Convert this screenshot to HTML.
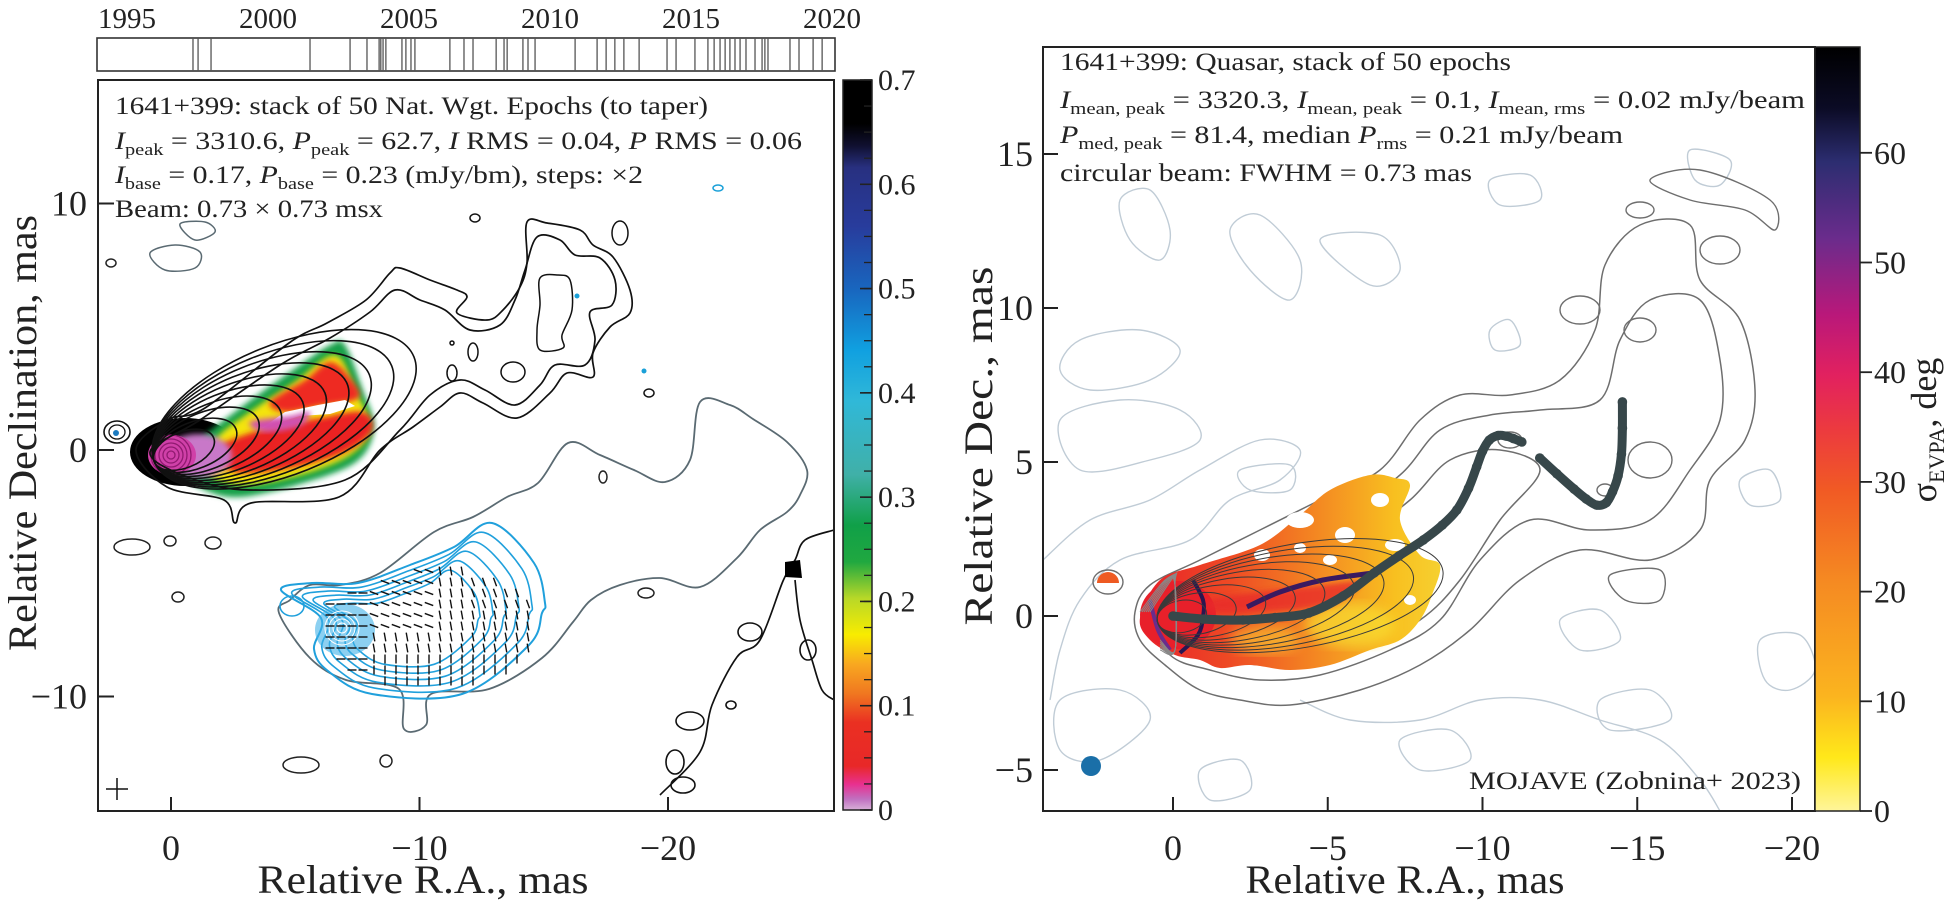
<!DOCTYPE html>
<html><head><meta charset="utf-8"><style>
html,body{margin:0;padding:0;background:#fff;}
svg{display:block;font-family:"Liberation Serif",serif;}
</style></head><body>
<svg id="fig" width="1944" height="919" viewBox="0 0 1944 919" xmlns="http://www.w3.org/2000/svg">
<defs>
<linearGradient id="cbL" x1="0" y1="1" x2="0" y2="0">
<stop offset="0" stop-color="#d8b0d8"/><stop offset="0.015" stop-color="#c070c0"/><stop offset="0.035" stop-color="#e83090"/><stop offset="0.06" stop-color="#e82828"/><stop offset="0.12" stop-color="#ea3022"/><stop offset="0.16" stop-color="#f07820"/><stop offset="0.2" stop-color="#f8a820"/><stop offset="0.24" stop-color="#f8ec00"/><stop offset="0.29" stop-color="#b8d828"/><stop offset="0.34" stop-color="#20a840"/><stop offset="0.39" stop-color="#10a048"/><stop offset="0.46" stop-color="#40b0a8"/><stop offset="0.56" stop-color="#30b8d8"/><stop offset="0.63" stop-color="#10a0e0"/><stop offset="0.71" stop-color="#1868c0"/><stop offset="0.8" stop-color="#283c9c"/><stop offset="0.88" stop-color="#283080"/><stop offset="0.91" stop-color="#101030"/><stop offset="0.94" stop-color="#000"/><stop offset="1" stop-color="#000"/>
</linearGradient>
<linearGradient id="cbR" x1="0" y1="1" x2="0" y2="0">
<stop offset="0" stop-color="#fff59a"/><stop offset="0.07" stop-color="#ffe81a"/><stop offset="0.15" stop-color="#fbb41f"/><stop offset="0.3" stop-color="#f58a22"/><stop offset="0.42" stop-color="#f15a24"/><stop offset="0.5" stop-color="#ec3a3f"/><stop offset="0.57" stop-color="#e2215f"/><stop offset="0.65" stop-color="#b9187a"/><stop offset="0.75" stop-color="#6a2c8c"/><stop offset="0.85" stop-color="#2c2d70"/><stop offset="0.92" stop-color="#0b0b25"/><stop offset="1" stop-color="#000"/>
</linearGradient>
<linearGradient id="jetR" x1="0" y1="0" x2="1" y2="0">
<stop offset="0" stop-color="#e8202a"/><stop offset="0.3" stop-color="#ee4a24"/><stop offset="0.6" stop-color="#f48a22"/><stop offset="0.85" stop-color="#f8c020"/><stop offset="1" stop-color="#f6d030"/>
</linearGradient>
<clipPath id="clipL"><rect x="98" y="80" width="736" height="731"/></clipPath>
<clipPath id="clipR"><rect x="1043" y="47" width="772" height="764"/></clipPath>
<filter id="blur3"><feGaussianBlur stdDeviation="3"/></filter>
<filter id="blur6"><feGaussianBlur stdDeviation="6"/></filter>
</defs>
<g id="leftMap" clip-path="url(#clipL)"></g>
<g id="rightMap" clip-path="url(#clipR)"></g>
<g id="axes"></g>
</svg>
<script>
// ---- data ----
const epochYears=[1997.34,1997.52,1997.98,2001.49,2002.91,2003.51,2003.94,2004.0,2004.08,2004.18,2004.75,2004.89,2005.07,2005.21,2006.45,2006.95,2007.27,2008.09,2008.37,2008.48,2009.04,2009.22,2009.47,2010.89,2011.67,2011.99,2012.30,2012.62,2013.16,2014.15,2014.47,2015.14,2015.60,2015.82,2016.03,2016.21,2016.38,2016.56,2016.74,2016.95,2017.27,2017.52,2017.62,2017.73,2018.51,2018.83,2019.33,2019.65];
const yearTicks=[1995,2000,2005,2010,2015,2020];
const leftXTicks=[0,-10,-20];
const leftYTicks=[10,0,-10];
const rightXTicks=[0,-5,-10,-15,-20];
const rightYTicks=[-5,0,5,10,15];
const leftCbTicks=[0,0.1,0.2,0.3,0.4,0.5,0.6,0.7];
const rightCbTicks=[0,10,20,30,40,50,60];
const ridgeRA1=[0,-1.0,-2.26,-3.3,-4.39,-5.5,-6.5,-7.3,-8.09,-8.7,-9.17,-9.55,-9.81,-10.0,-10.22,-10.5,-10.76,-11.0,-11.27];
const ridgeDec1=[0,-0.1,-0.13,-0.05,0.10,0.65,1.40,1.95,2.47,2.95,3.44,4.15,4.84,5.35,5.71,5.86,5.84,5.76,5.65];
const ridgeRA2=[-11.85,-12.4,-12.96,-13.35,-13.69,-14.0,-14.2,-14.38,-14.49,-14.52,-14.52];
const ridgeDec2=[5.13,4.62,4.12,3.80,3.60,3.68,4.03,4.55,5.26,6.1,6.95];

// ---- scales ----
const yearX=y=>127+(y-1995)*28.2;
const LX=ra=>171-24.85*ra, LY=d=>450-24.65*d;
const RX=ra=>1173-30.95*ra, RY=d=>616-30.8*d;
const cbLY=v=>810-v/0.7*730;
const cbRY=v=>811-v*10.97;

const NS='http://www.w3.org/2000/svg';
function mk(tag,attrs,parent,name,inter){const e=document.createElementNS(NS,tag);for(const k in attrs)e.setAttribute(k,attrs[k]);
 
 
 parent.appendChild(e);return e;}
function smooth(p,closed){const n=p.length;let d='M'+p[0][0]+','+p[0][1];
 const g=i=>closed?p[(i+n)%n]:p[Math.max(0,Math.min(n-1,i))];
 const m=closed?n:n-1;
 for(let i=0;i<m;i++){const p0=g(i-1),p1=g(i),p2=g(i+1),p3=g(i+2);
  const c1=[p1[0]+(p2[0]-p0[0])/6,p1[1]+(p2[1]-p0[1])/6],c2=[p2[0]-(p3[0]-p1[0])/6,p2[1]-(p3[1]-p1[1])/6];
  d+=`C${c1[0].toFixed(1)},${c1[1].toFixed(1)} ${c2[0].toFixed(1)},${c2[1].toFixed(1)} ${p2[0]},${p2[1]}`;}
 return d+(closed?'Z':'');}
const LM=document.getElementById('leftMap'), RM=document.getElementById('rightMap'), AX=document.getElementById('axes');

// ================= LEFT MAP =================
function cont(g,pts,stroke,w,name,fill){mk('path',{d:smooth(pts,true),fill:fill||'none',stroke:stroke,'stroke-width':w},g,name,false);}
cont(LM,[[150,253],[175,245],[200,252],[195,268],[165,270]],'#5a6a72',1.5,'grey-contour');
cont(LM,[[180,224],[205,222],[215,232],[195,240]],'#5a6a72',1.5,'grey-contour');
cont(LM,[[290,600],[310,585],[340,585],[380,573],[434,532],[473,517],[507,497],[538,483],[568,443],[600,455],[634,470],[665,482],[690,460],[700,402],[730,405],[753,419],[787,442],[807,470],[800,495],[787,512],[760,530],[737,558],[700,587],[660,578],[620,585],[591,600],[573,622],[542,658],[489,689],[431,694],[426,725],[404,729],[399,689],[346,680],[310,658],[279,613]],'#5a6a72',1.8,'grey-outer-contour');
mk('ellipse',{cx:185,cy:452,rx:55,ry:34,fill:'#000'},LM,'core-blob',false);
const green=[[200,440],[240,408],[290,372],[330,345],[345,345],[362,388],[374,428],[356,462],[300,484],[240,497],[205,490],[180,470]];
mk('path',{d:smooth(green,true),fill:'#18a048',filter:'url(#blur3)'},LM,'jet-green',false);
mk('path',{d:smooth([[215,440],[250,412],[295,382],[335,355],[355,390],[370,428],[350,455],[300,475],[240,485],[205,470]],true),fill:'#f4e410',filter:'url(#blur3)'},LM,'jet-yellow',false);
mk('path',{d:smooth([[270,402],[305,380],[330,362],[350,378],[358,398],[320,406],[285,412]],true),fill:'#ee2a22',filter:'url(#blur3)'},LM,'jet-red-upper',false);
mk('path',{d:smooth([[215,450],[260,430],[320,418],[362,412],[372,430],[345,452],[290,468],[235,472]],true),fill:'#ea2424',filter:'url(#blur3)'},LM,'jet-red-lower',false);
mk('path',{d:'M262,428 L300,416 L330,414 L355,406 L345,400 L318,405 L285,412 Z',fill:'#fff'},LM,'jet-gap',false);
mk('path',{d:smooth([[250,422],[290,416],[310,412],[300,426],[265,432]],true),fill:'#d050b0',filter:'url(#blur3)'},LM,'jet-pink',false);
mk('ellipse',{cx:198,cy:456,rx:34,ry:22,fill:'#c878c8',filter:'url(#blur3)'},LM,'core-purple',false);
mk('ellipse',{cx:172,cy:455,rx:24,ry:20,fill:'#d040a8'},LM,'core-magenta',false);
[4,8,12,16,20].forEach(r=>mk('circle',{cx:171,cy:455,r:r,fill:'none',stroke:'#901a70','stroke-width':1.3},LM,'core-ring',false));
for(let i=0;i<10;i++){const d=40+i*24,w=8+i*5.2,a=-22*Math.PI/180;
 const cx=171+Math.cos(a)*(d/2-6),cy=455+Math.sin(a)*(d/2-6);
 mk('ellipse',{cx:cx,cy:cy,rx:d/2+12,ry:w+10,transform:`rotate(-22 ${cx} ${cy})`,fill:'none',stroke:'#111','stroke-width':1.6},LM,'jet-contour',false);}
cont(LM,[[136,450],[167,420],[205,408],[289,343],[327,323],[366,300],[390,273],[400,268],[430,280],[457,290],[467,297],[457,313],[487,320],[503,310],[520,287],[527,263],[527,222],[547,223],[580,230],[593,245],[613,257],[630,290],[630,313],[610,327],[593,353],[593,377],[567,373],[550,393],[517,418],[483,403],[460,393],[440,407],[413,427],[380,450],[339,497],[251,503],[235,523],[224,500],[167,487]],'#111',1.7,'jet-outer-contour');
cont(LM,[[150,452],[200,420],[280,365],[330,338],[370,312],[395,290],[420,300],[445,310],[470,330],[500,325],[515,300],[525,270],[537,237],[560,240],[575,255],[600,258],[615,280],[612,305],[590,312],[595,340],[585,365],[555,365],[540,385],[515,405],[485,390],[460,380],[430,395],[400,430],[345,480],[250,490],[190,478]],'#111',1.7,'jet-contour-2');
cont(LM,[[540,278],[558,275],[570,280],[572,310],[562,335],[563,348],[540,350],[537,330],[540,305]],'#111',1.5,'jet-inner-loop');
[[513,372,12,10],[473,352,5,9],[452,373,5,8],[620,233,8,12],[475,218,5,4],[649,393,5,4],[452,343,2,2]].forEach(e=>mk('ellipse',{cx:e[0],cy:e[1],rx:e[2],ry:e[3],fill:'none',stroke:'#111','stroke-width':1.5},LM,'small-contour',false));
mk('ellipse',{cx:117,cy:432,rx:13,ry:11,fill:'none',stroke:'#111','stroke-width':1.6},LM,'companion-contour',false);
mk('ellipse',{cx:117,cy:432,rx:8,ry:7,fill:'none',stroke:'#111','stroke-width':1.3},LM,'companion-contour',false);
mk('circle',{cx:116,cy:433,r:3,fill:'#1a7ac0'},LM,'companion-dot',false);
[[132,547,18,8],[170,541,6,5],[213,543,8,6],[178,597,6,5],[301,765,18,8],[386,761,6,6],[111,263,5,4],[603,477,4,6],[646,593,8,5]].forEach(e=>mk('ellipse',{cx:e[0],cy:e[1],rx:e[2],ry:e[3],fill:'none',stroke:'#222','stroke-width':1.5},LM,'small-contour',false));
mk('path',{d:smooth([[660,795],[700,752],[712,705],[737,657],[760,640],[783,581],[795,560],[805,540],[834,530]],false),fill:'none',stroke:'#111','stroke-width':1.7},LM,'sw-contour',false);
mk('path',{d:smooth([[795,580],[800,620],[812,660],[822,690],[834,700]],false),fill:'none',stroke:'#111','stroke-width':1.7},LM,'sw-contour',false);
[[750,632,12,9],[690,721,14,9],[675,762,9,12],[731,705,5,4],[683,785,12,8],[808,650,8,10]].forEach(e=>mk('ellipse',{cx:e[0],cy:e[1],rx:e[2],ry:e[3],fill:'none',stroke:'#111','stroke-width':1.6},LM,'sw-contour-loop',false));
mk('path',{d:'M785,562 L800,560 L802,578 L785,577 Z',fill:'#000'},LM,'sw-black-blob',false);
const blueOuter=[[281,590],[312,583],[358,583],[410,565],[454,547],[492,523],[534,563],[545,603],[542,613],[529,645],[462,694],[372,694],[328,671],[314,649],[321,618]];
mk('path',{d:smooth(blueOuter,true),fill:'none',stroke:'#20a0dc','stroke-width':2},LM,'blue-contour',false);
for(let k=1;k<6;k++){const s=1-k*0.09,cx=400,cy=628;
 mk('path',{d:smooth(blueOuter.map(p=>[cx+(p[0]-cx)*s,cy+(p[1]-cy)*s]),true),fill:'none',stroke:'#20a0dc','stroke-width':1.6},LM,'blue-contour',false);}
mk('ellipse',{cx:345,cy:630,rx:30,ry:26,fill:'#40b0e8',opacity:0.6},LM,'blue-core',false);
[5,9,13,17].forEach(r=>mk('circle',{cx:342,cy:628,r:r,fill:'none',stroke:'#fff','stroke-width':1},LM,'blue-core-ring',false));
mk('ellipse',{cx:292,cy:606,rx:12,ry:10,fill:'none',stroke:'#20a0dc','stroke-width':1.6},LM,'blue-contour',false);
for(let x=330;x<535;x+=11){for(let y=560;y<690;y+=11){
 const inside=(x-430)*(x-430)/(110*110)+(y-628)*(y-628)/(60*60)<1 && y>600-(x-330)*0.35;
 if(!inside)continue;
 const ang=x<370?0:(y>655?90:(x>470&&y<610?70:(y<630&&x<430?20:80)));
 const r=ang*Math.PI/180,dx=4.5*Math.cos(r),dy=4.5*Math.sin(r);
 mk('line',{x1:x-dx,y1:y-dy,x2:x+dx,y2:y+dy,stroke:'#111','stroke-width':1.4},LM,'evpa-tick',false);}}
[[577,296],[644,371]].forEach(p=>mk('circle',{cx:p[0],cy:p[1],r:2.5,fill:'#1aa0d8'},LM,'blue-dot',false));
mk('ellipse',{cx:718,cy:188,rx:5,ry:3,fill:'none',stroke:'#1aa0d8','stroke-width':1.5},LM,'blue-contour',false);
mk('path',{d:'M106,789 h22 M117,778 v22',stroke:'#111','stroke-width':1.5},LM,'beam-cross',false);

// ================= RIGHT MAP =================
const faint=[[[1120,200],[1150,190],[1170,230],[1160,260],[1130,240]],[[1230,230],[1260,215],[1300,260],[1290,300],[1250,270]],[[1320,240],[1380,235],[1400,270],[1370,285]],[[1080,340],[1140,330],[1180,350],[1150,380],[1090,390],[1060,370]],[[1240,470],[1290,465],[1290,490],[1250,490]],[[1060,420],[1120,400],[1180,410],[1200,440],[1150,460],[1080,470]],[[1060,700],[1120,690],[1150,720],[1100,760],[1060,750]],[[1690,150],[1730,160],[1720,185],[1695,180]],[[1490,180],[1530,175],[1540,200],[1500,205]],[[1490,330],[1510,320],[1520,345],[1495,350]],[[1760,640],[1800,635],[1815,670],[1790,690],[1765,680]],[[1400,740],[1450,730],[1470,760],[1420,770]],[[1600,700],[1650,690],[1670,720],[1610,730]],[[1740,480],[1770,470],[1780,500],[1750,505]],[[1200,770],[1240,760],[1250,790],[1210,800]],[[1560,620],[1600,610],[1620,640],[1580,650]]];
faint.forEach(p=>mk('path',{d:smooth(p,true),fill:'none',stroke:'#c0ccd6','stroke-width':1.4},RM,'faint-contour',false));
mk('path',{d:smooth([[1043,560],[1090,520],[1150,500],[1200,470],[1260,440],[1300,450],[1280,480],[1230,500],[1190,540],[1120,560],[1080,600],[1060,650],[1050,700]],false),fill:'none',stroke:'#c0ccd6','stroke-width':1.4},RM,'faint-contour',false);
mk('path',{d:smooth([[1300,700],[1350,720],[1420,720],[1480,700],[1540,700],[1600,720],[1660,740],[1700,780],[1720,811]],false),fill:'none',stroke:'#c0ccd6','stroke-width':1.4},RM,'faint-contour',false);
const L1=[[1135,612],[1150,585],[1200,560],[1260,530],[1320,500],[1380,470],[1420,420],[1460,395],[1510,395],[1560,380],[1595,330],[1605,265],[1640,225],[1690,225],[1700,280],[1740,320],[1755,390],[1745,440],[1710,480],[1700,530],[1650,560],[1580,550],[1520,580],[1470,630],[1420,665],[1360,690],[1290,705],[1240,700],[1200,690],[1165,665],[1140,640]];
const L2=[[1145,612],[1165,585],[1220,565],[1280,540],[1340,515],[1400,475],[1440,430],[1490,415],[1540,410],[1600,400],[1620,340],[1650,300],[1700,300],[1720,360],[1720,420],[1690,470],[1650,520],[1590,530],[1530,520],[1480,560],[1440,620],[1390,650],[1320,675],[1260,680],[1210,670],[1170,655]];
const L3=[[1155,612],[1175,590],[1230,575],[1300,555],[1360,535],[1410,500],[1450,460],[1500,450],[1540,470],[1500,520],[1460,580],[1420,620],[1360,650],[1290,665],[1220,660],[1175,645]];
[L1,L2,L3].forEach(p=>mk('path',{d:smooth(p,true),fill:'none',stroke:'#6e6e6e','stroke-width':1.5},RM,'grey-contour',false));
[[1580,310,20,14],[1640,330,16,12],[1720,250,20,14],[1650,460,22,18],[1605,490,8,6],[1510,440,12,8],[1640,210,14,8]].forEach(e=>mk('ellipse',{cx:e[0],cy:e[1],rx:e[2],ry:e[3],fill:'none',stroke:'#6e6e6e','stroke-width':1.4},RM,'grey-contour',false));
mk('path',{d:smooth([[1650,180],[1700,170],[1770,200],[1775,230],[1745,210],[1690,200]],true),fill:'none',stroke:'#6e6e6e','stroke-width':1.4},RM,'grey-contour',false);
mk('path',{d:smooth([[1610,575],[1660,570],[1660,600],[1625,600]],true),fill:'none',stroke:'#6e6e6e','stroke-width':1.4},RM,'grey-contour',false);
const jet=[[1140,618],[1160,580],[1200,565],[1260,545],[1300,515],[1330,490],[1370,475],[1395,478],[1410,485],[1400,520],[1420,555],[1440,565],[1432,595],[1420,620],[1400,640],[1370,650],[1330,665],[1290,670],[1250,665],[1220,668],[1200,660],[1175,655],[1150,640]];
mk('path',{d:smooth(jet,true),fill:'url(#jetR)'},RM,'evpa-region',false);
[[1300,520,14,8],[1345,535,10,8],[1262,555,8,6],[1380,500,9,7],[1330,560,7,5],[1395,545,10,6],[1300,548,6,5],[1410,600,6,5]].forEach(e=>mk('ellipse',{cx:e[0],cy:e[1],rx:e[2],ry:e[3],fill:'#fff'},RM,'evpa-hole',false));
mk('ellipse',{cx:1350,cy:625,rx:45,ry:22,fill:'#f8e030',opacity:0.7,filter:'url(#blur6)'},RM,'yellow-patch',false);
mk('ellipse',{cx:1265,cy:640,rx:35,ry:14,fill:'#f8d030',opacity:0.6,filter:'url(#blur6)'},RM,'yellow-patch',false);
mk('ellipse',{cx:1178,cy:615,rx:38,ry:34,fill:'#e8202a'},RM,'core-red',false);
mk('path',{d:smooth([[1210,600],[1260,592],[1320,585],[1360,582],[1330,605],[1260,612],[1215,612]],true),fill:'#e82a2a',opacity:0.8,filter:'url(#blur3)'},RM,'red-band',false);
mk('path',{d:smooth([[1193,580],[1203,600],[1203,617],[1198,635],[1180,653]],false),fill:'none',stroke:'#2a1650','stroke-width':4},RM,'purple-streak',false);
mk('path',{d:smooth([[1247,607],[1280,592],[1323,580],[1373,573]],false),fill:'none',stroke:'#3a1a60','stroke-width':5},RM,'purple-streak',false);
mk('path',{d:smooth([[1150,600],[1158,630],[1170,650]],false),fill:'none',stroke:'#6a2c8c','stroke-width':4},RM,'purple-edge',false);
mk('path',{d:'M1097,583 a11,11 0 0 1 22,0 Z',fill:'#ee5a22'},RM,'companion-patch',false);
mk('ellipse',{cx:1108,cy:582,rx:15,ry:12,fill:'none',stroke:'#6e6e6e','stroke-width':1.4},RM,'companion-contour',false);
for(let i=0;i<9;i++){const d=30+i*30,w=8+i*4.5,a=-10*Math.PI/180;
 const cx=1173+Math.cos(a)*(d/2-6),cy=618+Math.sin(a)*(d/2-6);
 mk('ellipse',{cx:cx,cy:cy,rx:d/2+10,ry:w+8,transform:`rotate(-10 ${cx} ${cy})`,fill:'none',stroke:'#3a3a3a','stroke-width':1},RM,'inner-contour',false);}
for(let k=0;k<6;k++){mk('path',{d:smooth([[1140+k*2,612],[1165+k*2,580-k],[1175,585],[1175,650],[1160,650-k*2]],false),fill:'none',stroke:'#888','stroke-width':1},RM,'core-edge-contour',false);}
function ridge(ras,decs,name){
 const pts=ras.map((r,i)=>[RX(r),RY(decs[i])]);
 mk('path',{d:smooth(pts,false),fill:'none',stroke:'#37474a','stroke-width':9,'stroke-linecap':'round'},RM,name+'-line',false);
 ras.forEach((r,i)=>mk('circle',{cx:RX(r),cy:RY(decs[i]),r:4.8,fill:'#37474a'},RM,name+'-point',false));}
ridge(ridgeRA1,ridgeDec1,'ridge-segment-1');
ridge(ridgeRA2,ridgeDec2,'ridge-segment-2');
mk('circle',{cx:1091,cy:766,r:10,fill:'#1a6fa8'},RM,'beam-circle',false);

// ================= AXES / FRAMES =================
mk('rect',{x:97,y:38,width:738,height:33,fill:'none',stroke:'#333','stroke-width':1.6},AX,'epoch-strip',false);
epochYears.forEach(y=>mk('line',{x1:yearX(y),x2:yearX(y),y1:38,y2:71,stroke:'#555','stroke-width':1.3},AX,'epoch-line',false));
yearTicks.forEach(y=>{const t=mk('text',{x:yearX(y),y:28,'text-anchor':'middle','font-size':29,fill:'#222'},AX,'year-label',false);t.textContent=y;});
mk('rect',{x:98,y:80,width:736,height:731,fill:'none',stroke:'#222','stroke-width':2},AX,'left-frame',false);
mk('rect',{x:1043,y:47,width:772,height:764,fill:'none',stroke:'#222','stroke-width':2},AX,'right-frame',false);
function txt(x,y,s,size,anchor,name,extra){const t=mk('text',Object.assign({x:x,y:y,'font-size':size,'text-anchor':anchor||'middle',fill:'#222'},extra||{}),AX,name,false);t.textContent=s;return t;}
const fmt=v=>v<0?'\u2212'+Math.abs(v):String(v);
leftXTicks.forEach(v=>{mk('line',{x1:LX(v),x2:LX(v),y1:811,y2:797,stroke:'#222','stroke-width':2},AX,'left-x-tick',false);txt(LX(v),860,fmt(v),36,'middle','left-x-tick-label');});
leftYTicks.forEach(v=>{mk('line',{x1:98,x2:114,y1:LY(v),y2:LY(v),stroke:'#222','stroke-width':2},AX,'left-y-tick',false);txt(87,LY(v)+12,fmt(v),36,'end','left-y-tick-label');});
rightXTicks.forEach(v=>{mk('line',{x1:RX(v),x2:RX(v),y1:811,y2:797,stroke:'#222','stroke-width':2},AX,'right-x-tick',false);txt(RX(v),860,fmt(v),36,'middle','right-x-tick-label');});
rightYTicks.forEach(v=>{mk('line',{x1:1043,x2:1058,y1:RY(v),y2:RY(v),stroke:'#222','stroke-width':2},AX,'right-y-tick',false);txt(1033,RY(v)+12,fmt(v),36,'end','right-y-tick-label');});
txt(423,893,'Relative R.A., mas',40,'middle','left-x-axis-title',{textLength:331,lengthAdjust:'spacingAndGlyphs'});
txt(1405,893,'Relative R.A., mas',40,'middle','right-x-axis-title',{textLength:319,lengthAdjust:'spacingAndGlyphs'});
txt(0,0,'Relative Declination, mas',40,'middle','left-y-axis-title',{transform:'translate(36,433) rotate(-90)',textLength:436,lengthAdjust:'spacingAndGlyphs'});
txt(0,0,'Relative Dec., mas',40,'middle','right-y-axis-title',{transform:'translate(992,446) rotate(-90)',textLength:359,lengthAdjust:'spacingAndGlyphs'});
mk('rect',{x:843,y:80,width:29,height:730,fill:'url(#cbL)',stroke:'#222','stroke-width':1.5},AX,'left-colorbar',false);
for(let v=0;v<=0.7001;v+=0.025){mk('line',{x1:864,x2:872,y1:cbLY(v),y2:cbLY(v),stroke:'#222','stroke-width':1.3},AX,'left-colorbar-minor-tick',false);}
leftCbTicks.forEach(v=>{mk('line',{x1:860,x2:872,y1:cbLY(v),y2:cbLY(v),stroke:'#222','stroke-width':1.6},AX,'left-colorbar-tick',false);txt(878,cbLY(v)+10,v.toFixed(1).replace(/^0\.0$/,'0'),30,'start','left-colorbar-label');});
mk('rect',{x:1815,y:47,width:45,height:764,fill:'url(#cbR)',stroke:'#222','stroke-width':1.5},AX,'right-colorbar',false);
rightCbTicks.forEach(v=>{mk('line',{x1:1860,x2:1872,y1:cbRY(v),y2:cbRY(v),stroke:'#222','stroke-width':1.8},AX,'right-colorbar-tick',false);txt(1874,cbRY(v)+11,String(v),32,'start','right-colorbar-label');});
const st=txt(0,0,'',36,'middle','right-colorbar-title',{transform:'translate(1936,430) rotate(-90)'});
st.innerHTML='σ<tspan font-size="22" dy="8">EVPA</tspan><tspan dy="-8">, deg</tspan>';
function ann(x,y,html,len,name){const t=mk('text',{x:x,y:y,'font-size':25,fill:'#222',textLength:len,lengthAdjust:'spacingAndGlyphs'},AX,name,false);t.innerHTML=html;}
const sub=s=>`<tspan font-size="17" dy="6">${s}</tspan><tspan dy="-6">`;
ann(115,114,'1641+399: stack of 50 Nat. Wgt. Epochs (to taper)',593,'left-annotation-line-1');
ann(115,149,`<tspan font-style="italic">I</tspan>${sub('peak')} = 3310.6, </tspan><tspan font-style="italic">P</tspan>${sub('peak')} = 62.7, </tspan><tspan font-style="italic">I</tspan> RMS = 0.04, <tspan font-style="italic">P</tspan> RMS = 0.06`,687,'left-annotation-line-2');
ann(115,183,`<tspan font-style="italic">I</tspan>${sub('base')} = 0.17, </tspan><tspan font-style="italic">P</tspan>${sub('base')} = 0.23 (mJy/bm), steps: ×2</tspan>`,528,'left-annotation-line-3');
ann(115,217,'Beam: 0.73 × 0.73 msx',268,'left-annotation-line-4');
ann(1060,70,'1641+399: Quasar, stack of 50 epochs',451,'right-annotation-line-1');
ann(1060,108,`<tspan font-style="italic">I</tspan>${sub('mean, peak')} = 3320.3, </tspan><tspan font-style="italic">I</tspan>${sub('mean, peak')} = 0.1, </tspan><tspan font-style="italic">I</tspan>${sub('mean, rms')} = 0.02 mJy/beam</tspan>`,745,'right-annotation-line-2');
ann(1060,143,`<tspan font-style="italic">P</tspan>${sub('med, peak')} = 81.4, median </tspan><tspan font-style="italic">P</tspan>${sub('rms')} = 0.21 mJy/beam</tspan>`,563,'right-annotation-line-3');
ann(1060,181,'circular beam: FWHM = 0.73 mas',412,'right-annotation-line-4');
txt(1801,789,'MOJAVE (Zobnina+ 2023)',25,'end','credit-label',{textLength:332,lengthAdjust:'spacingAndGlyphs'});
</script>
</body></html>
